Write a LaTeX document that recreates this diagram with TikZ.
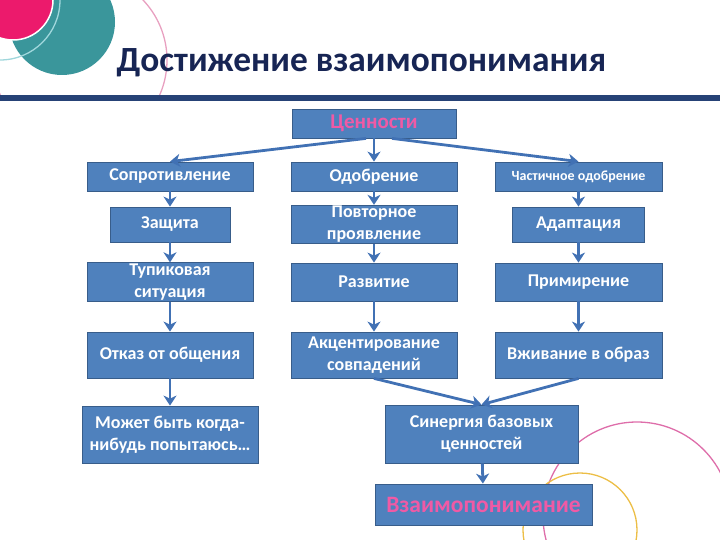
\documentclass[tikz,border=0pt]{standalone}
\usepackage{fontspec}
\setmainfont{Carlito}
\usetikzlibrary{arrows.meta}

\definecolor{boxblue}{RGB}{79,129,189}
\definecolor{boxedge}{RGB}{56,93,138}
\definecolor{arrowblue}{RGB}{65,113,180}
\definecolor{titlenavy}{RGB}{23,37,84}
\definecolor{barblue}{RGB}{38,66,118}
\definecolor{hotpink}{RGB}{236,26,108}
\definecolor{tealdisc}{RGB}{58,150,155}
\definecolor{paleteal}{RGB}{160,215,220}
\definecolor{palepink}{RGB}{232,160,192}
\definecolor{rosepink}{RGB}{222,110,170}
\definecolor{amber}{RGB}{236,190,70}
\definecolor{labelpink}{RGB}{240,90,165}

\begin{document}
\begin{tikzpicture}[x=1pt,y=-1pt,
    every node/.style={font=\fontsize{18}{22}\selectfont\bfseries},
    block/.style={
        draw=boxedge,
        fill=boxblue,
        line width=0.8pt,
        text=white,
        inner sep=1pt,
        align=center
    },
    keyword/.style={block, text=labelpink},
    arrow/.style={-{Stealth[length=10pt,width=13pt,inset=3pt]}, line width=2.8pt, draw=arrowblue},
    thinring/.style={line width=1.3pt}
]
\useasboundingbox (0,0) rectangle (720,540);

% header decoration
\begin{scope}
\clip (0,0) rectangle (720,95);
\draw[thinring, palepink] (80,60) circle[radius=87];
\fill[tealdisc] (62,22) circle[radius=53];
\draw[thinring, paleteal] (0,0) circle[radius=60];
\fill[hotpink, draw=white, line width=1.5pt] (13,0) circle[radius=40];
\end{scope}
\fill[barblue] (0,95) rectangle (720,101);

\node[anchor=base, text=titlenavy, font=\fontsize{35.4}{40}\selectfont\bfseries] (title) at (361.5,72) {Достижение взаимопонимания};

% corner rings
\draw[thinring, rosepink] (637,516) circle[radius=94];
\draw[thinring, amber] (580,530) circle[radius=57];

\node[keyword, minimum width=164pt, minimum height=29pt, font=\fontsize{21}{24}\selectfont\bfseries] (val) at (374,123.5) {Ценности};

\node[block, minimum width=166pt, minimum height=29pt] (resist) at (170,176.5) {Сопротивление};
\node[block, minimum width=166pt, minimum height=29pt] (approve) at (374,176.5) {Одобрение};
\node[block, minimum width=167pt, minimum height=29pt, font=\fontsize{14}{16}\selectfont\bfseries] (partial) at (578.5,176.5) {Частичное одобрение};

\node[block, minimum width=120pt, minimum height=35pt] (defense) at (170,224.5) {Защита};
\node[block, minimum width=166pt, minimum height=35pt] (repeat) at (374,224.5) {Повторное\\проявление};
\node[block, minimum width=132pt, minimum height=35pt] (adapt) at (578.5,224.5) {Адаптация};

\node[block, minimum width=166pt, minimum height=38pt] (deadlock) at (170,282) {Тупиковая\\ситуация};
\node[block, minimum width=166pt, minimum height=38pt] (develop) at (374,282) {Развитие};
\node[block, minimum width=167pt, minimum height=38pt] (reconcile) at (578.5,282) {Примирение};

\node[block, minimum width=166pt, minimum height=46pt] (refuse) at (170,355) {Отказ от общения};
\node[block, minimum width=166pt, minimum height=46pt] (accent) at (374,355) {Акцентирование\\совпадений};
\node[block, minimum width=167pt, minimum height=46pt] (roleplay) at (578.5,355) {Вживание в образ};

\node[block, minimum width=176pt, minimum height=57pt] (maybe) at (170,434.5) {Может быть когда-\\нибудь попытаюсь…};
\node[block, minimum width=193pt, minimum height=58pt] (synergy) at (481.5,434) {Синергия базовых\\ценностей};
\node[keyword, minimum width=217pt, minimum height=41pt, font=\fontsize{23.5}{26}\selectfont\bfseries] (mutual) at (483.5,504.5) {Взаимопонимание};

\draw[arrow] ([xshift=-8pt]val.south) -- (resist.north);
\draw[arrow] (val) -- (approve);
\draw[arrow] ([xshift=18pt]val.south) -- (partial.north);

\draw[arrow] (resist) -- (defense);
\draw[arrow] (defense) -- (deadlock);
\draw[arrow] (deadlock) -- (refuse);
\draw[arrow] (refuse) -- (maybe);

\draw[arrow] (approve) -- (repeat);
\draw[arrow] (repeat) -- (develop);
\draw[arrow] (develop) -- (accent);

\draw[arrow] (partial) -- (adapt);
\draw[arrow] (adapt) -- (reconcile);
\draw[arrow] (reconcile) -- (roleplay);

\draw[arrow] (accent.south) -- (synergy.north);
\draw[arrow] (roleplay.south) -- (synergy.north);
\draw[arrow] (synergy) -- (mutual);

\end{tikzpicture}
\end{document}
